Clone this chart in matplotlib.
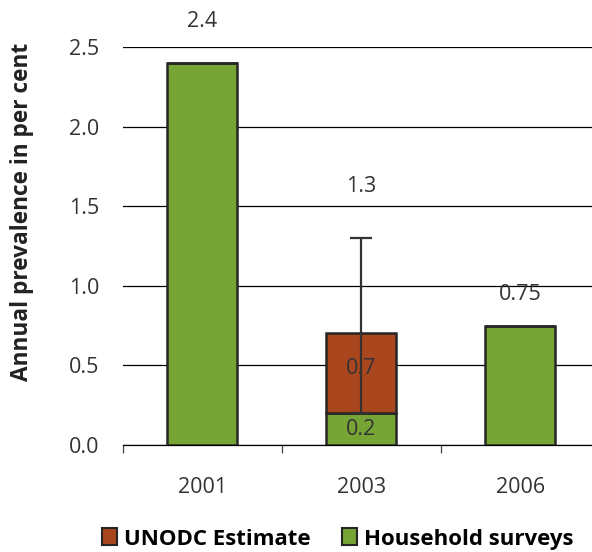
import numpy as np
import matplotlib.pyplot as plt
from matplotlib.patches import Patch

plt.rcParams['font.family'] = ['Open Sans', 'DejaVu Sans']

years = ['2001', '2003', '2006']
household = [2.4, 0.2, 0.75]
unodc = [0, 0.5, 0]
err_low = 0.2
err_high = 1.3
top_labels = ['2.4', '1.3', '0.75']

green = '#76a535'
orange = '#a9461d'
edge = '#262626'

fig = plt.figure(figsize=(5.92, 5.52), dpi=100)
ax = fig.add_axes([0.207, 0.194, 0.806, 0.721])

x = np.arange(len(years))
w = 0.44
ax.bar(x, household, w, color=green, edgecolor=edge, linewidth=1.8, zorder=3)
ax.bar(x, unodc, w, bottom=household, color=orange, edgecolor=edge, linewidth=1.8, zorder=3)

# error bar on the 2003 estimate
mid = (err_low + err_high) / 2
ax.errorbar(x[1], mid, yerr=[[mid - err_low], [err_high - mid]], fmt='none',
            ecolor='#333333', elinewidth=1.6, capsize=8, capthick=1.6, zorder=4)

# labels above the bars
tops = [household[0], err_high, household[2] + unodc[2]]
offs = [30, 37, 22]
for xi, t, lab, o in zip(x, tops, top_labels, offs):
    ax.annotate(lab, (xi, t), xytext=(0, o), textcoords='offset points',
                ha='center', va='center', fontsize=15.5, color='#333333',
                annotation_clip=False)
ax.text(x[1], 0.48, '0.7', ha='center', va='center', fontsize=15.5, color='#333333', zorder=5)
ax.text(x[1], 0.095, '0.2', ha='center', va='center', fontsize=15.5, color='#333333', zorder=5)

ax.set_xlim(-0.5, 2.5)
ax.set_ylim(0, 2.5)
ax.set_yticks(np.arange(0, 2.51, 0.5))
ax.set_yticklabels(['%.1f' % v for v in np.arange(0, 2.51, 0.5)])
ax.yaxis.grid(True, color='black', linewidth=0.9, zorder=0)
ax.set_axisbelow(True)

ax.set_xticks(x)
ax.set_xticklabels(years)
ax.set_xticks([-0.5, 0.5, 1.5, 2.5], minor=True)
ax.tick_params(axis='x', which='major', length=0, pad=23, labelsize=15.5, labelcolor='#333333')
ax.tick_params(axis='x', which='minor', length=6, width=0.9, direction='out', color='#444444')
ax.tick_params(axis='y', length=0, pad=17, labelsize=15.5, labelcolor='#333333')

for s in ['left', 'right', 'top']:
    ax.spines[s].set_visible(False)
ax.spines['bottom'].set_linewidth(0.9)

ax.set_ylabel('Annual prevalence in per cent', fontsize=16.3, fontweight='bold',
              color='#222222', va='center')
ax.yaxis.set_label_coords(-0.21, 0.585)

handles = [Patch(facecolor=orange, edgecolor=edge, linewidth=1.5, label='UNODC Estimate'),
           Patch(facecolor=green, edgecolor=edge, linewidth=1.5, label='Household surveys')]
fig.legend(handles=handles, loc='lower center', bbox_to_anchor=(0.57, -0.032), ncol=2,
           frameon=False, prop={'weight': 'bold', 'size': 16}, handlelength=0.7,
           handleheight=0.8, handletextpad=0.3, columnspacing=1.4)

fig.savefig('out.png', dpi=100)
